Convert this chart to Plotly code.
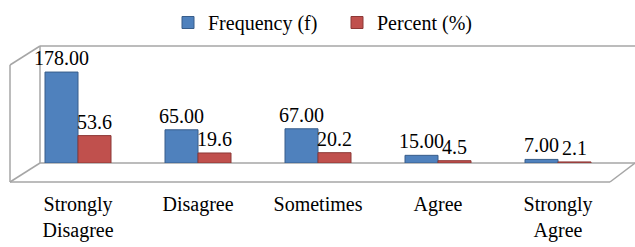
import plotly.graph_objects as go

categories = ["Strongly<br>Disagree", "Disagree", "Sometimes", "Agree", "Strongly<br>Agree"]
frequency = [178, 65, 67, 15, 7]
percent = [53.6, 19.6, 20.2, 4.5, 2.1]
freq_labels = ["178.00", "65.00", "67.00", "15.00", "7.00"]
pct_labels = ["53.6", "19.6", "20.2", "4.5", "2.1"]

W, H = 635, 247
L, R, T, B = 18, 17, 46, 84
pw, ph = W - L - R, H - T - B

def px(x):
    return (x - L) / pw

def py(y):
    return (H - B - y) / ph

FAM = "Liberation Serif"
def font(size=18):
    return dict(family=FAM, size=size, color="#000000")

fig = go.Figure()
fig.add_trace(go.Bar(
    name="Frequency (f)", x=categories, y=frequency, text=freq_labels,
    textposition="outside", cliponaxis=False, constraintext="none",
    marker=dict(color="#4F81BD", line=dict(color="#385D8A", width=1)),
    textfont=font(20),
))
fig.add_trace(go.Bar(
    name="Percent (%)", x=categories, y=percent, text=pct_labels,
    textposition="outside", cliponaxis=False, constraintext="none",
    marker=dict(color="#C0504D", line=dict(color="#8C3836", width=1)),
    textfont=font(20),
))

gray = dict(color="#A6A6A6", width=1.5)
shapes = [
    dict(type="line", x0=px(40), x1=px(635), y0=py(46), y1=py(46), line=gray),
    dict(type="line", x0=px(40), x1=px(40), y0=py(46), y1=py(163), line=gray),
    dict(type="line", x0=px(10), x1=px(40), y0=py(65), y1=py(46), line=gray),
    dict(type="line", x0=px(10), x1=px(10), y0=py(65), y1=py(182), line=gray),
    dict(type="line", x0=px(40), x1=px(635), y0=py(163), y1=py(163), line=gray),
    dict(type="line", x0=px(10), x1=px(610), y0=py(182), y1=py(182), line=gray),
    dict(type="line", x0=px(10), x1=px(40), y0=py(182), y1=py(163), line=gray),
    dict(type="line", x0=px(610), x1=px(635), y0=py(182), y1=py(163), line=gray),
]
for s in shapes:
    s.update(xref="paper", yref="paper", layer="below")

fig.update_layout(
    width=W, height=H,
    margin=dict(l=L, r=R, t=T, b=B, autoexpand=False),
    paper_bgcolor="white", plot_bgcolor="white",
    barmode="group", bargap=0.45, bargroupgap=0,
    font=font(),
    showlegend=True,
    legend=dict(orientation="h", x=px(168), xanchor="left", y=py(3), yanchor="top",
                font=font(20), traceorder="normal", itemwidth=30,
                entrywidth=124, bgcolor="rgba(0,0,0,0)"),
    xaxis=dict(showgrid=False, showline=False, zeroline=False, ticks="",
               tickfont=font(20), ticklabelstandoff=27),
    yaxis=dict(visible=False, range=[0, 229]),
    shapes=shapes,
)

fig.write_html("out.html", config={"displayModeBar": False},
               post_script="document.body.style.margin='0px';")
